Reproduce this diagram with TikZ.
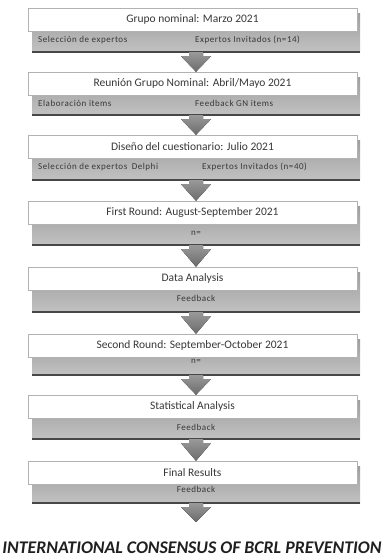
\documentclass[tikz,border=0pt]{standalone}
\usepackage{fontspec}
\setmainfont{Carlito}
\usepackage{tikz}
\usetikzlibrary{calc,positioning}

% block arrow from a band down to the next stage
\newcommand{\flowarrow}[2]{%
  \path (#1.south) coordinate (fa) (#2) coordinate (fb);
  \fill[arrowfill] ($(fa)+(-7,0)$) -- ($(fa)+(7,0)$) -- ($(fa)+(7,4)$)
    -- ($(fa)+(15,4)$) -- (fa |- fb) -- ($(fa)+(-15,4)$) -- ($(fa)+(-7,4)$) -- cycle;
}

\begin{document}
\begin{tikzpicture}[
  x=1pt, y=-1pt,
  stage/.style={rectangle, draw=black!30, fill=white, minimum width=329pt, minimum height=23pt,
    inner sep=1pt, font=\fontsize{11.5}{13}\selectfont, text=black!78},
  band/.style={rectangle, minimum width=328pt, inner sep=0pt, top color=black!38, bottom color=black!24},
  bandline/.style={draw=black!72, line width=2pt},
  tag/.style={inner sep=0pt, font=\fontsize{9}{10}\selectfont\addfontfeature{LetterSpace=6}, text=black!78},
  arrowfill/.style={top color=black!40, bottom color=black!58},
  title/.style={inner sep=0pt, font=\fontsize{17.8}{20}\selectfont\bfseries\itshape, text=black!88}
]
\useasboundingbox (0,0) rectangle (384,557);

\foreach \n/\t/\b/\txt in {
  1/8/52/{Grupo nominal: Marzo 2021},
  2/72/115/{Reunión Grupo Nominal: Abril/Mayo 2021},
  3/135/180/{Diseño del cuestionario: Julio 2021},
  4/201/245/{First Round: August-September 2021},
  5/267/312/{Data Analysis},
  6/334/375/{Second Round: September-October 2021},
  7/395/439/{Statistical Analysis},
  8/461/503/{Final Results}} {
  \node[band, minimum height={\b-\t-5}] (b\n) at (196,{(\t+5+\b)/2}) {};
  \draw[bandline] (b\n.south west) -- (b\n.south east);
  \node[stage] (s\n) at (192.5,{\t+11.5}) {\txt};
}

% labels in the bands
\node[tag, anchor=west] (l1) at (38,40) {Selección de expertos};
\node[tag, anchor=west] (r1) at (195,40) {Expertos Invitados (n=14)};
\node[tag, anchor=west] (l2) at (38,103) {Elaboración items};
\node[tag, anchor=west] (r2) at (195,103) {Feedback GN items};
\node[tag, anchor=west] (l3) at (38,167) {Selección de expertos\enspace Delphi};
\node[tag, anchor=west] (r3) at (202,167) {Expertos Invitados (n=40)};
\node[tag] (c4) at (196,233) {n=};
\node[tag] (c5) at (196,298) {Feedback};
\node[tag] (c6) at (196,361) {n=};
\node[tag] (c7) at (196,427) {Feedback};
\node[tag] (c8) at (196,489) {Feedback};

\node[title] (res) at (192,548) {INTERNATIONAL CONSENSUS OF BCRL PREVENTION};
\coordinate (end) at (196,522);

\foreach \n [count=\m from 2] in {1,...,7} {
  \flowarrow{b\n}{s\m.north}
}
\flowarrow{b8}{end}
\end{tikzpicture}
\end{document}
